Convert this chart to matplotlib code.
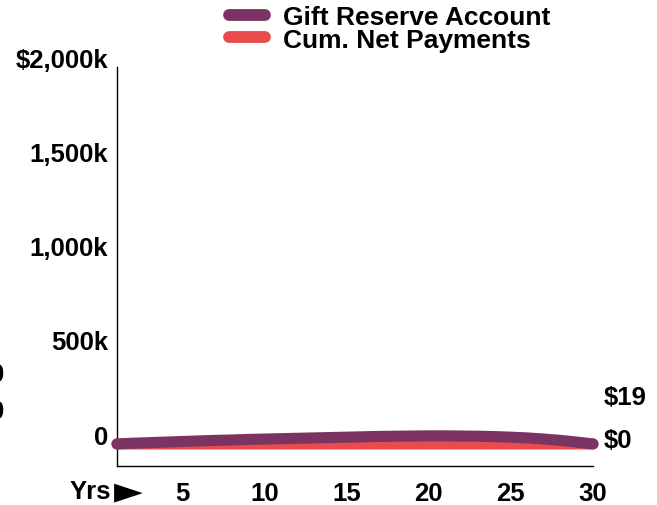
import matplotlib
matplotlib.use("Agg")
import matplotlib.pyplot as plt
import matplotlib.transforms as mtransforms

plt.rcParams["font.family"] = ["Liberation Sans", "DejaVu Sans"]
plt.rcParams["font.weight"] = "bold"

# Balances in $k by plan year
years = list(range(1, 31))
gift_reserve = [0, 4, 7, 10, 13, 16, 19, 21, 24, 26, 28, 30, 32, 34, 36,
                38, 40, 41, 42, 43, 43, 42, 41, 39, 36, 32, 26, 19, 10, 0]
net_payments = [0, 0, 0, 0, 0, 0, 0, 0, 0, 0, 0, 0, 0, 0, 0,
                0, 0, 0, 0, 0, 0, 0, 0, 0, 0, 0, 0, 0, 0, 0.019]
y_ticks = [0, 500, 1000, 1500, 2000]
y_labels = ["0", "500k", "1,000k", "1,500k", "$2,000k"]
x_ticks = [5, 10, 15, 20, 25, 30]
end_labels = {"gift": "$0", "net": "$19"}

PURPLE = "#7b3461"
RED = "#e84c4c"
FS = 18.5

fig = plt.figure(figsize=(6.57, 5.06), dpi=100)
ax = fig.add_axes([117 / 657, 1 - 467 / 506, 476 / 657, 399 / 506])

ax.plot(years, net_payments, color=RED, lw=8, solid_capstyle="round",
        label="Cum. Net Payments", zorder=3, clip_on=False)
ax.plot(years, gift_reserve, color=PURPLE, lw=8, solid_capstyle="round",
        label="Gift Reserve Account", zorder=4, clip_on=False)

ax.set_xlim(1, 30)
ax.set_ylim(-117, 2000)
ax.set_xticks(x_ticks)
ax.set_yticks(y_ticks)
ax.set_yticklabels(y_labels)
ax.tick_params(axis="both", length=0, labelsize=FS)
ax.tick_params(axis="y", pad=6.5)
ax.tick_params(axis="x", pad=11)
for lbl in ax.get_xticklabels() + ax.get_yticklabels():
    lbl.set_fontweight("bold")
# nudge y labels up a little
shift = mtransforms.ScaledTranslation(0, 7 / 72, fig.dpi_scale_trans)
for lbl in ax.get_yticklabels():
    lbl.set_transform(lbl.get_transform() + shift)

for side in ("top", "right"):
    ax.spines[side].set_visible(False)
for side in ("left", "bottom"):
    ax.spines[side].set_linewidth(1.0)
    ax.spines[side].set_color("black")

# end-of-line value labels
ax.annotate(end_labels["gift"], xy=(years[-1], gift_reserve[-1]),
            xytext=(11, 4), textcoords="offset pixels", va="center",
            ha="left", fontsize=FS, fontweight="bold", annotation_clip=False)
ax.annotate(end_labels["net"], xy=(years[-1], net_payments[-1]),
            xytext=(11, 47), textcoords="offset pixels", va="center",
            ha="left", fontsize=FS, fontweight="bold", annotation_clip=False)

fig.text(111 / 657, 1 - 492 / 506, "Yrs", ha="right", va="center",
         fontsize=FS, fontweight="bold")
fig.text(114 / 657, 1 - 492 / 506, "\u25ba", ha="left", va="center",
         fontsize=27, family="DejaVu Sans")

# stray labels sitting off the left edge
fig.text(4.5 / 657, 1 - 375 / 506, "0", ha="right", va="center",
         fontsize=FS, fontweight="bold")
fig.text(4.5 / 657, 1 - 412 / 506, "0", ha="right", va="center",
         fontsize=FS, fontweight="bold")

handles, labels = ax.get_legend_handles_labels()
leg = fig.legend(handles[::-1], labels[::-1], loc="upper left",
                 bbox_to_anchor=(229 / 657, 1 - 6 / 506), frameon=False,
                 fontsize=19, handlelength=1.35, handletextpad=0.7,
                 labelspacing=-0.05, borderaxespad=0, borderpad=0)
for line in leg.get_lines():
    line.set_linewidth(8.5)
    line.set_solid_capstyle("round")
for t in leg.get_texts():
    t.set_fontweight("bold")

fig.savefig("out.png", dpi=100)
